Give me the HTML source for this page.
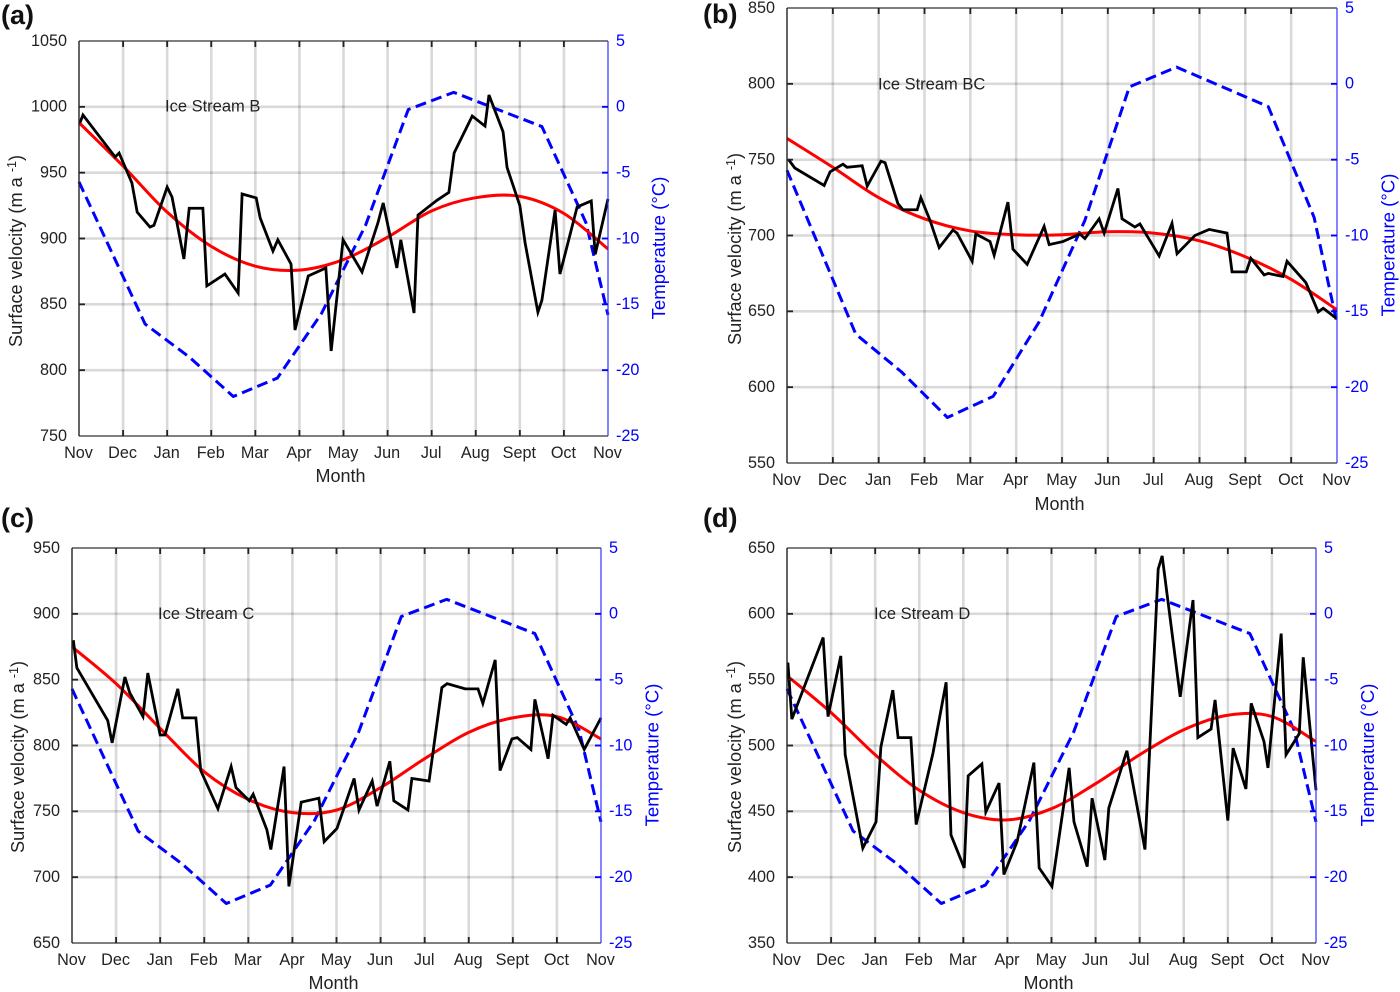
<!DOCTYPE html>
<html lang="en">
<head>
<meta charset="utf-8">
<title>Surface velocity and temperature by month for four ice streams</title>
<style>
html,body{margin:0;padding:0;background:#fff;width:1400px;height:992px;overflow:hidden}
svg{display:block;font-family:"Liberation Sans",Arial,sans-serif}
.axis-label{font-size:18.2px;fill:#222;text-anchor:middle}
.x-label{font-size:18px;fill:#222;text-anchor:middle}
.temp-label{font-size:18.6px;fill:#0000ff;text-anchor:middle}
.letter{font-size:27px;font-weight:bold;fill:#111}
.note{font-size:16.5px;fill:#222}
.sup{font-size:12.5px}
</style>
</head>
<body>
<svg id="chart" xmlns="http://www.w3.org/2000/svg" width="1400" height="992" viewBox="0 0 1400 992">
  <text class="letter" x="1" y="24">(a)</text>
  <text class="letter" x="703" y="23">(b)</text>
  <text class="letter" x="1" y="527">(c)</text>
  <text class="letter" x="703" y="527">(d)</text>
  <g id="plots"></g>

  <text class="note" x="165" y="111.5">Ice Stream B</text>
  <text class="note" x="878" y="89.5">Ice Stream BC</text>
  <text class="note" x="158" y="619">Ice Stream C</text>
  <text class="note" x="874" y="619">Ice Stream D</text>

  <text class="x-label" x="340.5" y="482">Month</text>
  <text class="x-label" x="1059.5" y="510">Month</text>
  <text class="x-label" x="333.5" y="989">Month</text>
  <text class="x-label" x="1048.5" y="989">Month</text>

  <text class="axis-label" transform="translate(22,251) rotate(-90)">Surface velocity (m a <tspan class="sup" dy="-6">-1</tspan><tspan dy="6">)</tspan></text>
  <text class="axis-label" transform="translate(741,249) rotate(-90)">Surface velocity (m a <tspan class="sup" dy="-6">-1</tspan><tspan dy="6">)</tspan></text>
  <text class="axis-label" transform="translate(24,757) rotate(-90)">Surface velocity (m a <tspan class="sup" dy="-6">-1</tspan><tspan dy="6">)</tspan></text>
  <text class="axis-label" transform="translate(741,757) rotate(-90)">Surface velocity (m a <tspan class="sup" dy="-6">-1</tspan><tspan dy="6">)</tspan></text>

  <text class="temp-label" transform="translate(665,248) rotate(-90)">Temperature (°C)</text>
  <text class="temp-label" transform="translate(1394.5,245) rotate(-90)">Temperature (°C)</text>
  <text class="temp-label" transform="translate(658.5,755) rotate(-90)">Temperature (°C)</text>
  <text class="temp-label" transform="translate(1374,755) rotate(-90)">Temperature (°C)</text>
</svg>
<script>
// Shared categories and tick labels
const monthLabels = ['Nov','Dec','Jan','Feb','Mar','Apr','May','Jun','Jul','Aug','Sept','Oct','Nov'];
const tempTicks = [5,0,-5,-10,-15,-20,-25];
const redMonths = [0,1,2,3,4,5,6,7,8,9,10,11,12];

// Air temperature (same in all panels)
const tempMonths = [0,0.5,1.5,2.5,3.5,4.5,5.5,6.5,7.47,8.5,9.5,10.5,11.5,12];
const tempValues = [-5.7,-9.3,-16.5,-19,-22,-20.6,-15.7,-9,-0.2,1.1,-0.2,-1.5,-8.8,-15.8];

// Panel a: Ice Stream B
const aTicks = [1050,1000,950,900,850,800,750];
const aMonths = [0.02,0.09,0.82,0.91,1.2,1.32,1.61,1.7,2,2.11,2.38,2.5,2.81,2.9,3.31,3.61,3.7,4.02,4.11,4.4,4.51,4.81,4.9,5.2,5.6,5.72,5.99,6.42,6.78,6.9,7.21,7.3,7.6,7.69,8.12,8.39,8.51,8.92,9.21,9.3,9.62,9.71,10,10.12,10.41,10.5,10.8,10.91,11.3,11.62,11.71,12];
const aVelocity = [987.7,993.8,961.9,964.9,942.2,920,908.7,910,939,931.5,884.4,923,923,864,873,858.6,933.8,930.8,915.6,890.5,899,880.6,830.5,871.5,877.6,814.6,899,874.6,911.8,927,877.6,899,843.4,917.8,929,935,965,993,985.4,1009,981,954,925,896.6,844,853,921.6,873,924,928.5,888,930];
const aTrend = [988,955,920,894,879,876,884,901,921,931,932,919,892];

// Panel b: Ice Stream BC
const bTicks = [850,800,750,700,650,600,550];
const bMonths = [0.04,0.17,0.81,0.94,1.22,1.31,1.64,1.75,2.05,2.14,2.42,2.53,2.84,2.92,3.12,3.32,3.62,3.71,4.04,4.12,4.43,4.52,4.82,4.93,5.24,5.61,5.72,6.02,6.39,6.5,6.81,6.92,7.22,7.31,7.59,7.7,8.12,8.4,8.51,8.9,9.21,9.6,9.71,10.02,10.12,10.41,10.5,10.82,10.91,11.32,11.59,11.7,12];
const bVelocity = [749.8,744.5,733,742,747,745,746,732.6,749,748,721,717,717,725,710,692,703.6,701.6,683,701,696,687,722,691,681,706,694,696,701,698,711,701.6,731,711,705.6,707.6,686.5,708,688,700,704,701.6,676,676,685,674,675,673,683,669,649.6,652,645];
const bTrend = [764,745,725,711,703,700.5,700.5,702.5,701.6,696.5,686,671,651];

// Panel c: Ice Stream C
const cTicks = [950,900,850,800,750,700,650];
const cMonths = [0.03,0.11,0.81,0.91,1.2,1.31,1.61,1.72,2,2.11,2.4,2.51,2.81,2.92,3.31,3.61,3.72,4.02,4.11,4.42,4.51,4.81,4.92,5.2,5.6,5.72,6.01,6.4,6.51,6.81,6.92,7.21,7.3,7.62,7.71,8.1,8.39,8.51,8.92,9.21,9.32,9.6,9.71,9.98,10.1,10.41,10.5,10.8,10.91,11.21,11.3,11.62,12];
const cVelocity = [880,859,819,802,852,840,822,855,808,808,843,821,821,781,752,784,768,758,763,736,721,784,693,757,760,727,737,775,751,773,754,788,758,751,775,773,844,847,843,843,832,865,781,805,806,797,835,790,823,816,821,797,821];
const cTrend = [875,847,813,780,759,749,751,768,790,810,821,822,805];

// Panel d: Ice Stream D
const dTicks = [650,600,550,500,450,400,350];
const dMonths = [0.02,0.11,0.82,0.93,1.22,1.32,1.72,2.02,2.13,2.4,2.52,2.81,2.93,3.31,3.61,3.72,4.02,4.11,4.42,4.51,4.81,4.92,5.22,5.6,5.72,6.01,6.4,6.51,6.81,6.92,7.21,7.3,7.71,8.12,8.42,8.51,8.92,9.21,9.32,9.62,9.71,10,10.12,10.41,10.53,10.82,10.91,11.21,11.32,11.62,11.71,12];
const dVelocity = [563,520,582,522,568,493,422,442,499,542,506,506,440,494,548,432,407,477,486,449.5,471.5,402,427,487,407,393,483,442,408,460,413,452.5,496,421,634,644,537,610.5,506,512.5,534.6,443,498,467,532,503,483,585,493,509,567,466];
const dTrend = [553,525,493,466,449,443.5,452,471,493,512,523,522,503];

const NS = 'http://www.w3.org/2000/svg';
const plots = document.getElementById('plots');

function mk(tag, attrs, parent) {
  const el = document.createElementNS(NS, tag);
  for (const k in attrs) el.setAttribute(k, attrs[k]);
  parent.appendChild(el);
  return el;
}

function linePath(xs, ys, sx, sy) {
  return xs.map(function (x, i) {
    return (i ? 'L' : 'M') + sx(x).toFixed(2) + ' ' + sy(ys[i]).toFixed(2);
  }).join('');
}

function smoothPath(xs, ys, sx, sy) {
  const pts = xs.map(function (x, i) { return [sx(x), sy(ys[i])]; });
  let d = 'M' + pts[0][0].toFixed(2) + ' ' + pts[0][1].toFixed(2);
  for (let i = 0; i < pts.length - 1; i++) {
    const p0 = pts[Math.max(i - 1, 0)], p1 = pts[i], p2 = pts[i + 1], p3 = pts[Math.min(i + 2, pts.length - 1)];
    const c1x = p1[0] + (p2[0] - p0[0]) / 6, c1y = p1[1] + (p2[1] - p0[1]) / 6;
    const c2x = p2[0] - (p3[0] - p1[0]) / 6, c2y = p2[1] - (p3[1] - p1[1]) / 6;
    d += 'C' + c1x.toFixed(2) + ' ' + c1y.toFixed(2) + ' ' + c2x.toFixed(2) + ' ' + c2y.toFixed(2) + ' ' + p2[0].toFixed(2) + ' ' + p2[1].toFixed(2);
  }
  return d;
}

function drawPanel(box, vTicks, months, velocity, trend) {
  const vMax = vTicks[0], vMin = vTicks[vTicks.length - 1];
  const tMax = tempTicks[0], tMin = tempTicks[tempTicks.length - 1];
  const sx = function (m) { return box.x0 + (box.x1 - box.x0) * m / (monthLabels.length - 1); };
  const sv = function (v) { return box.y0 + (box.y1 - box.y0) * (vMax - v) / (vMax - vMin); };
  const st = function (t) { return box.y0 + (box.y1 - box.y0) * (tMax - t) / (tMax - tMin); };
  const g = mk('g', {}, plots);
  
  

  // Gridlines
  monthLabels.forEach(function (lab, i) {
    if (i === 0 || i === monthLabels.length - 1) return;
    const gl = mk('line', {x1: sx(i), x2: sx(i), y1: box.y0, y2: box.y1, stroke: '#000', 'stroke-opacity': 0.15, 'stroke-width': 2.6}, g);
    
    
  });
  vTicks.forEach(function (v, i) {
    if (i === 0 || i === vTicks.length - 1) return;
    const gl = mk('line', {x1: box.x0, x2: box.x1, y1: sv(v), y2: sv(v), stroke: '#000', 'stroke-opacity': 0.15, 'stroke-width': 2.6}, g);
    
    
  });

  // Series
  const tempLine = mk('path', {d: linePath(tempMonths, tempValues, sx, st), fill: 'none', stroke: '#0000ff', 'stroke-width': 3, 'stroke-dasharray': '11 5.5', 'stroke-linejoin': 'round'}, g);
  
  
  const trendLine = mk('path', {d: smoothPath(redMonths, trend, sx, sv), fill: 'none', stroke: '#ff0000', 'stroke-width': 3}, g);
  
  
  const velLine = mk('path', {d: linePath(months, velocity, sx, sv), fill: 'none', stroke: '#000', 'stroke-width': 2.8, 'stroke-linejoin': 'miter'}, g);
  
  

  // Axis lines
  const topAxis = mk('line', {x1: box.x0, x2: box.x1, y1: box.y0, y2: box.y0, stroke: '#333', 'stroke-width': 1.3}, g);
  
  
  const bottomAxis = mk('line', {x1: box.x0, x2: box.x1, y1: box.y1, y2: box.y1, stroke: '#333', 'stroke-width': 1.3}, g);
  
  
  const leftAxis = mk('line', {x1: box.x0, x2: box.x0, y1: box.y0, y2: box.y1, stroke: '#222', 'stroke-width': 1.4}, g);
  
  
  const rightAxis = mk('line', {x1: box.x1, x2: box.x1, y1: box.y0, y2: box.y1, stroke: '#3333ff', 'stroke-width': 1.2}, g);
  
  

  // Month ticks and labels
  monthLabels.forEach(function (lab, i) {
    if (i > 0 && i < monthLabels.length - 1) {
      const t1 = mk('line', {x1: sx(i), x2: sx(i), y1: box.y0, y2: box.y0 + 6, stroke: '#222', 'stroke-width': 1.8}, g);
      
      
      const t2 = mk('line', {x1: sx(i), x2: sx(i), y1: box.y1, y2: box.y1 - 6, stroke: '#222', 'stroke-width': 1.8}, g);
      
      
    }
    const tx = mk('text', {x: sx(i) - 0.5, y: box.y1 + 22, 'text-anchor': 'middle', 'font-size': 16.2, fill: '#222'}, g);
    tx.textContent = lab;
    
    
  });

  // Velocity ticks and labels
  vTicks.forEach(function (v, i) {
    if (i > 0 && i < vTicks.length - 1) {
      const t = mk('line', {x1: box.x0, x2: box.x0 + 6, y1: sv(v), y2: sv(v), stroke: '#222', 'stroke-width': 1.8}, g);
      
      
    }
    const tx = mk('text', {x: box.x0 - 12, y: sv(v) + 4.9, 'text-anchor': 'end', 'font-size': 16.2, fill: '#222'}, g);
    tx.textContent = String(v);
    
    
  });

  // Temperature ticks and labels
  tempTicks.forEach(function (t, i) {
    if (i > 0 && i < tempTicks.length - 1) {
      const tk = mk('line', {x1: box.x1, x2: box.x1 - 6, y1: st(t), y2: st(t), stroke: '#0000ff', 'stroke-width': 1.8}, g);
      
      
    }
    const tx = mk('text', {x: box.x1 + 8, y: st(t) + 4.9, 'font-size': 16.2, fill: '#0000ff'}, g);
    tx.textContent = String(t);
    
    
  });
}

drawPanel({x0: 79, x1: 608, y0: 41, y1: 436}, aTicks, aMonths, aVelocity, aTrend);
drawPanel({x0: 787, x1: 1337, y0: 8, y1: 463}, bTicks, bMonths, bVelocity, bTrend);
drawPanel({x0: 72, x1: 601, y0: 548, y1: 943}, cTicks, cMonths, cVelocity, cTrend);
drawPanel({x0: 787, x1: 1316, y0: 548, y1: 943}, dTicks, dMonths, dVelocity, dTrend);
</script>
</body>
</html>
